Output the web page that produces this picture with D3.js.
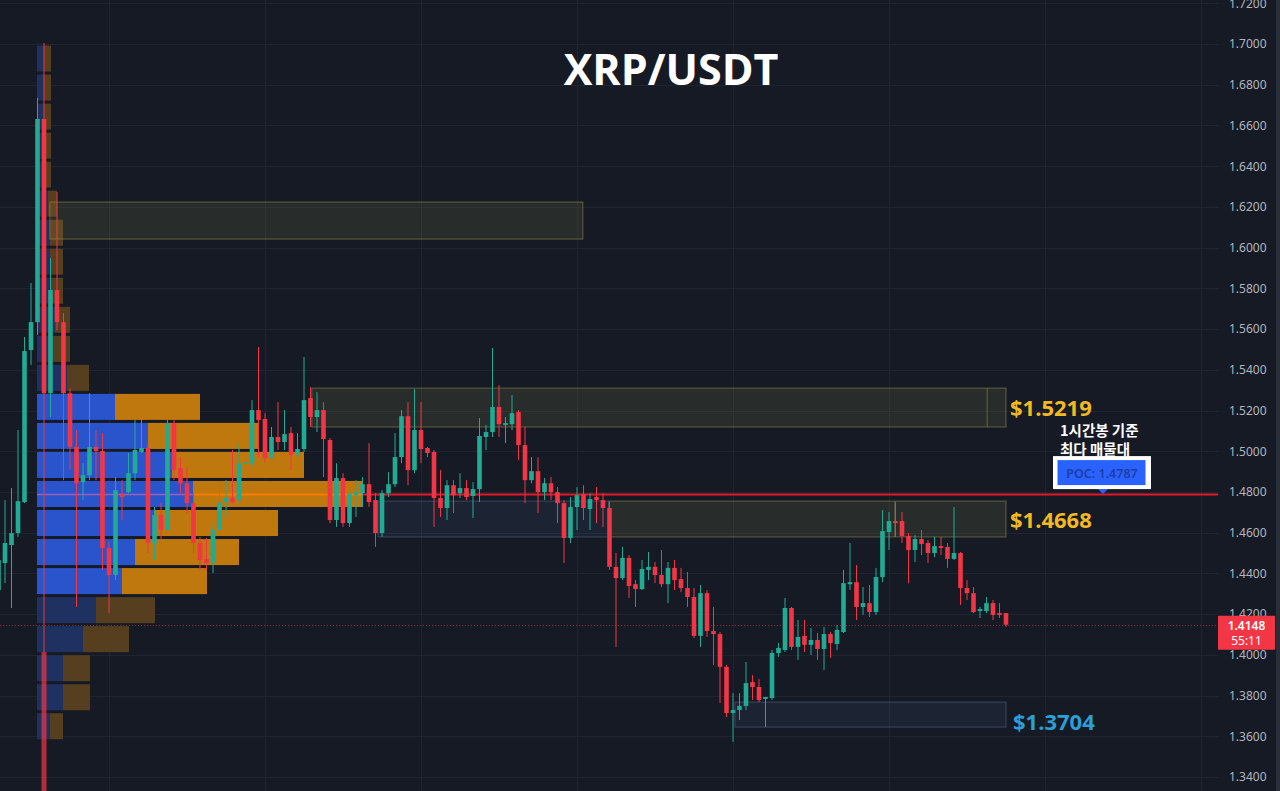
<!DOCTYPE html>
<html><head><meta charset="utf-8">
<script src="https://cdn.jsdelivr.net/npm/d3@7"></script>
<style>html,body{margin:0;padding:0;background:#161a25;overflow:hidden}</style>
</head><body><svg id="c" width="1280" height="791"></svg>
<script>
// ---------- DATA ----------
// hourly candles [open, high, low, close]
const candles = [
[1.4318,1.4564,1.4024,1.4466],[1.4451,1.4760,1.4352,1.4549],[1.4539,1.4819,1.4230,1.4598],[1.4598,1.5104,1.4579,1.4755],
[1.4750,1.5561,1.4745,1.5492],[1.5497,1.5826,1.5423,1.5634],[1.5634,1.6735,1.5570,1.6632],[1.6632,1.7005,1.4014,1.5285],
[1.5285,1.5949,1.5168,1.5792],[1.5792,1.6273,1.5595,1.5634],[1.5634,1.5678,1.4858,1.5285],[1.5285,1.5310,1.4907,1.5021],
[1.5021,1.5104,1.4235,1.4843],[1.4848,1.4941,1.4760,1.4882],[1.4882,1.5285,1.4858,1.5021],[1.5021,1.5104,1.4858,1.5001],
[1.5001,1.5089,1.4417,1.4525],[1.4525,1.4554,1.4205,1.4392],[1.4392,1.4873,1.4367,1.4809],[1.4789,1.4858,1.4662,1.4775],
[1.4799,1.4991,1.4794,1.4892],[1.4892,1.5153,1.4858,1.5006],[1.4996,1.5168,1.4991,1.5016],[1.5016,1.5040,1.4500,1.4549],
[1.4549,1.4726,1.4466,1.4687],[1.4687,1.4745,1.4564,1.4613],[1.4613,1.5192,1.4598,1.5138],[1.5138,1.5153,1.4858,1.4907],
[1.4917,1.4971,1.4794,1.4843],[1.4843,1.4922,1.4696,1.4745],[1.4745,1.4794,1.4500,1.4549],[1.4549,1.4579,1.4417,1.4466],
[1.4471,1.4574,1.4417,1.4451],[1.4451,1.4637,1.4402,1.4613],[1.4613,1.4843,1.4598,1.4750],[1.4750,1.4858,1.4677,1.4770],
[1.4770,1.5006,1.4745,1.4750],[1.4760,1.5040,1.4745,1.4941],[1.4941,1.4981,1.4907,1.4946],[1.4941,1.5251,1.4922,1.5202],
[1.5202,1.5512,1.4971,1.5153],[1.5158,1.5187,1.4941,1.4966],[1.4966,1.5119,1.4941,1.5070],[1.5070,1.5241,1.5006,1.5045],
[1.5045,1.5202,1.5006,1.5084],[1.5089,1.5119,1.4907,1.4981],[1.4981,1.5089,1.4907,1.5011],[1.5011,1.5463,1.4996,1.5251],
[1.5261,1.5315,1.5119,1.5168],[1.5168,1.5290,1.5094,1.5202],[1.5202,1.5241,1.4873,1.5060],[1.5055,1.5065,1.4647,1.4662],
[1.4662,1.4941,1.4628,1.4868],[1.4868,1.4892,1.4628,1.4647],[1.4647,1.4824,1.4628,1.4794],[1.4784,1.4858,1.4677,1.4799],
[1.4794,1.4873,1.4726,1.4838],[1.4838,1.5040,1.4726,1.4750],[1.4760,1.4794,1.4530,1.4598],[1.4598,1.4809,1.4579,1.4794],
[1.4794,1.4897,1.4775,1.4838],[1.4838,1.5089,1.4824,1.4971],[1.4971,1.5202,1.4941,1.5172],[1.5172,1.5241,1.4833,1.4907],
[1.4907,1.5305,1.4892,1.5104],[1.5104,1.5241,1.4941,1.5011],[1.5016,1.5021,1.4971,1.4991],[1.4996,1.5006,1.4628,1.4770],
[1.4770,1.4907,1.4677,1.4721],[1.4721,1.4858,1.4662,1.4833],[1.4833,1.4858,1.4696,1.4784],[1.4794,1.4892,1.4770,1.4819],
[1.4819,1.4858,1.4760,1.4775],[1.4780,1.4848,1.4672,1.4814],[1.4814,1.5163,1.4750,1.5075],[1.5070,1.5129,1.5006,1.5094],
[1.5094,1.5507,1.5070,1.5217],[1.5217,1.5325,1.5070,1.5133],[1.5129,1.5168,1.5040,1.5138],[1.5133,1.5276,1.5104,1.5187],
[1.5192,1.5202,1.4956,1.5030],[1.5030,1.5119,1.4745,1.4858],[1.4858,1.4971,1.4843,1.4902],[1.4902,1.4971,1.4696,1.4799],
[1.4799,1.4868,1.4760,1.4843],[1.4843,1.4873,1.4760,1.4799],[1.4799,1.4824,1.4647,1.4745],[1.4745,1.4760,1.4451,1.4574],
[1.4574,1.4775,1.4549,1.4726],[1.4726,1.4824,1.4613,1.4784],[1.4789,1.4833,1.4662,1.4721],[1.4716,1.4794,1.4613,1.4765],
[1.4775,1.4824,1.4647,1.4760],[1.4760,1.4794,1.4628,1.4721],[1.4721,1.4750,1.4417,1.4432],[1.4432,1.4500,1.4039,1.4377],
[1.4377,1.4530,1.4367,1.4476],[1.4476,1.4490,1.4279,1.4338],[1.4347,1.4367,1.4235,1.4323],[1.4323,1.4466,1.4318,1.4422],
[1.4417,1.4505,1.4367,1.4432],[1.4432,1.4456,1.4352,1.4392],[1.4392,1.4515,1.4333,1.4347],[1.4347,1.4456,1.4254,1.4427],
[1.4427,1.4466,1.4318,1.4367],[1.4372,1.4427,1.4308,1.4328],[1.4328,1.4407,1.4235,1.4284],[1.4284,1.4328,1.4083,1.4093],
[1.4093,1.4343,1.4039,1.4303],[1.4303,1.4318,1.4088,1.4117],[1.4117,1.4235,1.3950,1.4102],[1.4102,1.4112,1.3763,1.3941],
[1.3941,1.3950,1.3694,1.3714],[1.3714,1.3812,1.3572,1.3729],[1.3729,1.3812,1.3680,1.3749],[1.3749,1.3965,1.3729,1.3861],
[1.3866,1.3900,1.3778,1.3842],[1.3842,1.3881,1.3768,1.3778],[1.3783,1.3793,1.3646,1.3793],[1.3788,1.4024,1.3778,1.4009],
[1.4009,1.4058,1.3990,1.4034],[1.4024,1.4279,1.4014,1.4230],[1.4230,1.4235,1.4024,1.4039],[1.4039,1.4171,1.3975,1.4088],
[1.4093,1.4171,1.4014,1.4049],[1.4049,1.4132,1.3999,1.4073],[1.4073,1.4107,1.3975,1.4029],[1.4029,1.4137,1.3925,1.4102],
[1.4102,1.4112,1.3985,1.4058],[1.4053,1.4147,1.4024,1.4122],[1.4112,1.4417,1.4107,1.4352],[1.4347,1.4549,1.4318,1.4357],
[1.4357,1.4441,1.4171,1.4235],[1.4235,1.4333,1.4196,1.4254],[1.4254,1.4343,1.4186,1.4210],[1.4210,1.4427,1.4196,1.4382],
[1.4382,1.4711,1.4357,1.4608],[1.4603,1.4701,1.4515,1.4657],[1.4657,1.4750,1.4579,1.4647],[1.4657,1.4701,1.4549,1.4584],
[1.4584,1.4598,1.4352,1.4515],[1.4515,1.4588,1.4456,1.4569],[1.4569,1.4613,1.4490,1.4544],[1.4549,1.4564,1.4451,1.4500],
[1.4500,1.4579,1.4480,1.4534],[1.4534,1.4579,1.4490,1.4525],[1.4530,1.4549,1.4427,1.4471],[1.4471,1.4726,1.4466,1.4500],
[1.4500,1.4505,1.4245,1.4328],[1.4328,1.4367,1.4269,1.4303],[1.4303,1.4333,1.4205,1.4210],[1.4215,1.4235,1.4181,1.4225],
[1.4215,1.4284,1.4205,1.4254],[1.4254,1.4269,1.4171,1.4196],[1.4205,1.4254,1.4181,1.4196],[1.4205,1.4205,1.4137,1.4148]
];
// stray bar below candle 7 (index, top price, bottom price)
const strayBar = [7, 1.4014, 1.3280];

// price axis tick labels
const priceTicks = [1.34,1.36,1.38,1.40,1.42,1.44,1.46,1.48,1.50,1.52,1.54,1.56,1.58,1.60,1.62,1.64,1.66,1.68,1.70,1.72];
// vertical grid (candle index of day boundaries)
const timeGrid = [17,41,65,89,113,137,161,185];

// volume profile rows, top (1.70) to bottom
const vpHigh = 1.70, vpLow = 1.3578;
const vpUp   = [0.65,0.65,0.65,0.65,0.65,1.1,1.3,1.3,1.3,1.8,1.6,3.0,7.8,11.1,13.5,15.6,11.8,9.8,8.5,5.9,4.6,2.6,2.6,1.3];
const vpDown = [0.75,0.75,0.75,0.75,0.75,0.9,1.3,1.3,1.3,1.5,1.7,2.2,8.5,11.0,13.2,16.9,12.3,10.4,8.5,5.9,4.6,2.7,2.7,1.3];
const valueArea = [12, 18];
const pocPrice = 1.4787;
const lastPrice = 1.4148;
const countdown = "55:11";

// zones: from/to in candle index, top/bottom prices
const zoneFrom   = [7.9, 48.2, 93.9, 58.4, 113.3];
const zoneTo     = [89.9, 155, 155, 93.9, 155];
const zoneTop    = [1.6224, 1.5310, 1.4755, 1.4755, 1.3768];
const zoneBottom = [1.6042, 1.5119, 1.4579, 1.4579, 1.3645];
const zoneKind   = ["supply","supply","supply","demand","demand"];
const zoneSplit  = [null, 152.1, 137.9, null, null];

const levelText  = ["$1.5219","$1.4668","$1.3704"];
const levelPrice = [1.5219, 1.4668, 1.3704];
const levelKind  = ["supply","supply","demand"];

const noteLines = ["1시간봉 기준", "최다 매물대"];

// ---------- DRAW ----------
const W=1280,H=791, plotRight=1218;
const UP="#22ab94", DN="#f23645";
const svg=d3.select('#c');
svg.append('rect').attr('width',W).attr('height',H).attr('fill','#161a25');

const x=d3.scaleLinear().domain([0,155]).range([-1.5,1006]);
const y=d3.scaleLinear().domain([1.34,1.72]).range([777,3.28]);

// grid
const grid=svg.append('g').attr('stroke','#1f2430').attr('stroke-width',1);
grid.selectAll('line.h').data(priceTicks).join('line')
  .attr('x1',0).attr('x2',plotRight)
  .attr('y1',d=>Math.round(y(d))+0.5).attr('y2',d=>Math.round(y(d))+0.5);
grid.selectAll('line.v').data(timeGrid).join('line')
  .attr('x1',d=>Math.round(x(d))+0.5).attr('x2',d=>Math.round(x(d))+0.5)
  .attr('y1',0).attr('y2',H);

// volume profile
const rows=vpUp.length, bin=(vpHigh-vpLow)/rows;
const xv=d3.scaleLinear().domain([0,10]).range([37,137]);
const vp=svg.append('g');
vpUp.forEach((u,k)=>{
  const top=y(vpHigh-k*bin), bot=y(vpHigh-(k+1)*bin);
  const inVA = k>=valueArea[0] && k<=valueArea[1];
  const yy=top+1.5, hh=bot-top-3;
  vp.append('rect').attr('x',xv(0)).attr('y',yy).attr('width',xv(u)-xv(0)).attr('height',hh)
    .attr('fill',inVA?'#2a54cc':'#1f3160');
  vp.append('rect').attr('x',xv(u)).attr('y',yy).attr('width',xv(u+vpDown[k])-xv(u)).attr('height',hh)
    .attr('fill',inVA?'#bf780d':'#553f1f');
});
// POC row line inside profile
const pocRow=Math.floor((vpHigh-pocPrice)/bin);
const pocUpEnd=xv(vpUp[pocRow]), pocEnd=xv(vpUp[pocRow]+vpDown[pocRow]);
svg.append('line').attr('x1',xv(0)).attr('x2',pocUpEnd).attr('y1',y(pocPrice)).attr('y2',y(pocPrice))
  .attr('stroke','#9a5fb8').attr('stroke-width',1.5);
svg.append('line').attr('x1',pocUpEnd).attr('x2',pocEnd).attr('y1',y(pocPrice)).attr('y2',y(pocPrice))
  .attr('stroke','#ff7b00').attr('stroke-width',2);

// zones
const zg=svg.append('g');
zoneFrom.forEach((f,i)=>{
  const sup=zoneKind[i]==='supply';
  const x0=x(f), x1=x(zoneTo[i]), y0=y(zoneTop[i]), y1=y(zoneBottom[i]);
  zg.append('rect').attr('x',x0).attr('y',y0).attr('width',x1-x0).attr('height',y1-y0)
    .attr('fill',sup?'rgba(150,145,75,0.15)':'rgba(70,100,150,0.14)')
    .attr('stroke',sup?'rgba(150,145,80,0.55)':'rgba(90,110,145,0.5)').attr('stroke-width',1);
  if(zoneSplit[i]!=null){
    zg.append('line').attr('x1',x(zoneSplit[i])).attr('x2',x(zoneSplit[i])).attr('y1',y0).attr('y2',y1)
      .attr('stroke','rgba(150,145,80,0.55)');
  }
});

// POC red line
svg.append('line').attr('x1',pocEnd).attr('x2',plotRight).attr('y1',y(pocPrice)).attr('y2',y(pocPrice))
  .attr('stroke','#e3182a').attr('stroke-width',2);

// current price dotted line
svg.append('line').attr('x1',0).attr('x2',plotRight).attr('y1',Math.round(y(lastPrice))+0.5).attr('y2',Math.round(y(lastPrice))+0.5)
  .attr('stroke',DN).attr('stroke-opacity',0.55).attr('stroke-dasharray','1,2');

// stray bar
svg.append('rect').attr('x',x(strayBar[0])-2.5).attr('width',5)
  .attr('y',y(strayBar[1])).attr('height',y(strayBar[2])-y(strayBar[1]))
  .attr('fill',DN).attr('opacity',0.7);

// candles
const cg=svg.append('g');
const bw=4.6;
cg.selectAll('g').data(candles).join('g').each(function(d,i){
  const [o,h,l,c]=d, col=c>=o?UP:DN, cx=x(i);
  const s=d3.select(this);
  s.append('line').attr('x1',cx).attr('x2',cx).attr('y1',y(h)).attr('y2',y(l)).attr('stroke',col).attr('stroke-width',1);
  const t=Math.min(y(o),y(c)), b=Math.max(y(o),y(c));
  s.append('rect').attr('x',cx-bw/2).attr('y',t).attr('width',bw).attr('height',Math.max(1.5,b-t)).attr('fill',col);
});

// level labels
const lg=svg.append('g').attr('font-family','"Open Sans","Noto Sans",sans-serif').attr('font-weight',700).attr('font-size',22);
levelText.forEach((t,i)=>{
  const sup=levelKind[i]==='supply';
  lg.append('text').attr('x',x(155)+4+(sup?0:3)).attr('y',y(levelPrice[i])+(sup?0:6))
    .attr('dominant-baseline','central').attr('fill',sup?'#f3b922':'#2a9fd8').text(t);
});

// Korean annotation
const ann=svg.append('g').attr('font-family','"Noto Sans CJK KR","Noto Sans",sans-serif').attr('font-size',14.5).attr('font-weight',700).attr('fill','#ffffff');
noteLines.forEach((t,i)=>{
  ann.append('text').attr('x',1060).attr('y',429.5+i*18.5).attr('dominant-baseline','central').text(t);
});

// POC label box
const by=y(pocPrice);
svg.append('rect').attr('x',1053).attr('y',by-38.5).attr('width',98).attr('height',33).attr('fill','#ffffff');
svg.append('rect').attr('x',1057.5).attr('y',by-34.5).attr('width',88).attr('height',25).attr('fill','#2962ff');
svg.append('path').attr('d',`M${1098},${by-5.5} L${1108},${by-5.5} L${1103},${by-0.5} Z`).attr('fill','#2962ff');
svg.append('text').attr('x',1102).attr('y',by-21.5).attr('text-anchor','middle').attr('dominant-baseline','central')
  .attr('font-family','"Noto Sans",sans-serif').attr('font-size',12.5).attr('font-weight',600).attr('fill','#1c3ea6').text('POC: '+pocPrice.toFixed(4));

// right axis
svg.append('rect').attr('x',1276).attr('y',0).attr('width',4).attr('height',H).attr('fill','#2a2e39');
const axis=d3.axisRight(y).tickValues(priceTicks).tickFormat(d3.format('.4f')).tickSize(0).tickPadding(0);
const ag=svg.append('g').attr('transform','translate(1229,0)').call(axis);
ag.select('.domain').remove();
ag.selectAll('text').attr('fill','#b2b5be').attr('font-size',12).attr('font-family','"Noto Sans","Open Sans",sans-serif');

// last price tag
const ly=y(lastPrice);
svg.append('rect').attr('x',1218).attr('y',ly-9).attr('width',57).attr('height',34).attr('fill',DN).attr('rx',1);
svg.append('text').attr('x',1246.5).attr('y',ly+1).attr('text-anchor','middle').attr('dominant-baseline','central')
  .attr('font-family','"Noto Sans",sans-serif').attr('font-size',12).attr('font-weight',600).attr('fill','#fff').text(lastPrice.toFixed(4));
svg.append('text').attr('x',1246.5).attr('y',ly+16).attr('text-anchor','middle').attr('dominant-baseline','central')
  .attr('font-family','"Noto Sans",sans-serif').attr('font-size',12).attr('fill','#fff').text(countdown);

// title
svg.append('text').attr('x',671).attr('y',68).attr('text-anchor','middle').attr('dominant-baseline','central')
  .attr('font-family','"Open Sans","Noto Sans",sans-serif').attr('font-weight',700).attr('font-size',43).attr('fill','#ffffff').text('XRP/USDT');
</script></body></html>
